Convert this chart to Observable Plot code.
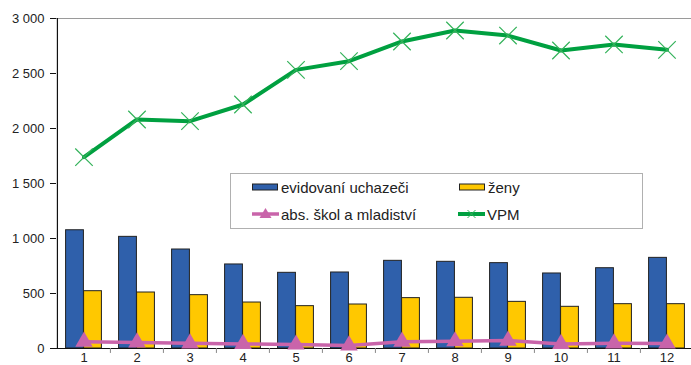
<!DOCTYPE html>
<html><head><meta charset="utf-8">
<script src="https://cdn.jsdelivr.net/npm/d3@7"></script>
<script src="https://cdn.jsdelivr.net/npm/@observablehq/plot@0.6"></script>
<style>
html,body{margin:0;padding:0;background:#fff;}
#wrap{position:relative;width:691px;height:365px;overflow:hidden;font-family:"Liberation Sans",Arial,sans-serif;}
#legend{position:absolute;left:230px;top:173px;width:411px;height:54px;border:1px solid #b0b0b0;background:#fff;font-size:15px;color:#222;}
.item{position:absolute;height:20px;display:flex;align-items:center;white-space:nowrap;}
.item svg{margin-right:2px;}
</style></head><body><div id="wrap"></div>
<script>
const months = ["1","2","3","4","5","6","7","8","9","10","11","12"];
const evidovani = [1075, 1015, 900, 764, 688, 691, 797, 788, 776, 682, 730, 824];
const zeny = [521, 509, 485, 418, 385, 400, 458, 461, 424, 379, 403, 403];
const absolventi = [62, 55, 47, 42, 36, 28, 62, 66, 72, 42, 47, 45];
const vpm = [1739, 2082, 2067, 2218, 2533, 2612, 2791, 2891, 2845, 2709, 2764, 2715];
const yTicks = [0, 500, 1000, 1500, 2000, 2500, 3000];
const seriesNames = ["evidovaní uchazeči", "ženy", "abs. škol a mladiství", "VPM"];
const colors = {blue: "#2F60AB", yellow: "#FFC800", pink: "#C964AA", green: "#00A040", greenMark: "#33B25A"};

const W = 691, H = 365, ML = 56, MR = -3, MT = 18, MB = 17;
const step = (W - ML - MR) / months.length, BW = 18;
const fmt = d => d3.format(",")(d).replace(/,/g, " ");
const rows = months.map((m, i) => ({m, e: evidovani[i], z: zeny[i], a: absolventi[i], v: vpm[i]}));

const chart = Plot.plot({
  width: W, height: H, marginLeft: ML, marginRight: MR, marginTop: MT, marginBottom: MB,
  style: {fontFamily: "'Liberation Sans', Arial, sans-serif", fontSize: "13px", color: "#222", background: "#fff", overflow: "visible"},
  x: {type: "band", domain: months, padding: 0, axis: null, label: null},
  y: {domain: [0, 3000], axis: null, label: null},
  marks: [
    Plot.ruleY([3000], {stroke: "#9a9a9a", strokeWidth: 1}),
    Plot.barY(rows, {x: "m", y: "e", fill: colors.blue, stroke: "#222", strokeWidth: 1, insetLeft: step / 2 - BW, insetRight: step / 2}),
    Plot.barY(rows, {x: "m", y: "z", fill: colors.yellow, stroke: "#222", strokeWidth: 1, insetLeft: step / 2, insetRight: step / 2 - BW}),
    Plot.ruleY([0], {stroke: "#111", strokeWidth: 1.2}),
    Plot.ruleX(months.slice(1), {x: d => d, dx: -step / 2, y1: 0, y2: -45, stroke: "#888"}),
    Plot.ruleX([months[0]], {x: d => d, dx: -step / 2, y1: 0, y2: 3000, stroke: "#111", strokeWidth: 1.2}),
    Plot.line(rows, {x: "m", y: "a", stroke: colors.pink, strokeWidth: 3.5}),
    Plot.dot(rows, {x: "m", y: "a", symbol: "triangle", r: 6.5, fill: colors.pink}),
    Plot.line(rows, {x: "m", y: "v", stroke: colors.green, strokeWidth: 4}),
    Plot.dot(rows, {x: "m", y: "v", symbol: "times", r: 8, stroke: colors.greenMark, strokeWidth: 1.2}),
    Plot.axisY({ticks: yTicks, tickFormat: fmt, tickSize: 6, tickPadding: 6, stroke: "#111", label: null}),
    Plot.axisX({tickSize: 0, tickPadding: 4, label: null})
  ]
});
const wrap = document.getElementById("wrap");
wrap.appendChild(chart);

const legend = document.createElement("div");
legend.id = "legend";
const sw = {
  rectBlue: `<svg width="27" height="20"><rect x="0.5" y="7" width="25" height="6" fill="${colors.blue}" stroke="#222"/></svg>`,
  rectYellow: `<svg width="27" height="20"><rect x="0.5" y="7" width="25" height="6" fill="${colors.yellow}" stroke="#222"/></svg>`,
  pink: `<svg width="27" height="20"><line x1="0" x2="27" y1="10" y2="10" stroke="${colors.pink}" stroke-width="3.5"/><path d="M13.5,4 L19.5,14 L7.5,14 Z" fill="${colors.pink}"/></svg>`,
  green: `<svg width="27" height="20"><line x1="0" x2="27" y1="10" y2="10" stroke="${colors.green}" stroke-width="4"/><path d="M9.5,6 L17.5,14 M17.5,6 L9.5,14" stroke="${colors.greenMark}" stroke-width="1"/></svg>`
};
const items = [
  {name: seriesNames[0], s: sw.rectBlue, left: 21, top: 3},
  {name: seriesNames[1], s: sw.rectYellow, left: 228, top: 3},
  {name: seriesNames[2], s: sw.pink, left: 21, top: 30},
  {name: seriesNames[3], s: sw.green, left: 227, top: 30}
];
for (const it of items) {
  const d = document.createElement("div");
  d.className = "item";
  d.style.left = it.left + "px";
  d.style.top = it.top + "px";
  d.innerHTML = it.s + `<span>${it.name}</span>`;
  legend.appendChild(d);
}
wrap.appendChild(legend);
</script>
</body></html>
